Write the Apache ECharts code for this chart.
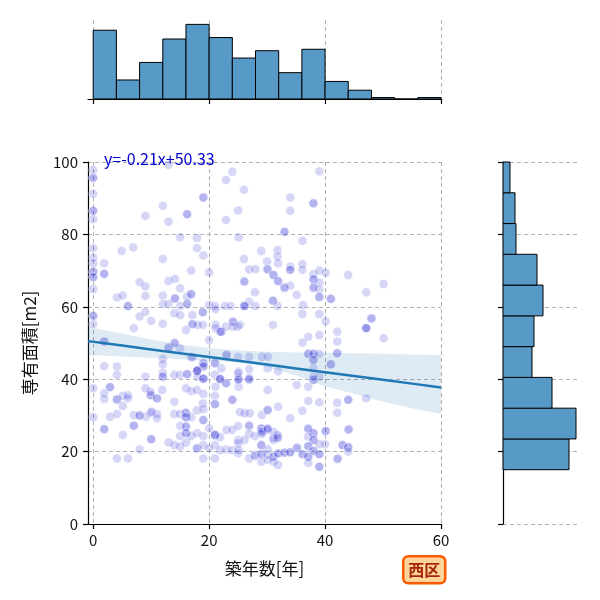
<!DOCTYPE html>
<html>
<head>
<meta charset="utf-8">
<script src="https://cdn.jsdelivr.net/npm/echarts@6/dist/echarts.min.js"></script>
<style>
html, body { margin: 0; padding: 0; background: #fff; }
#container { width: 600px; height: 600px; }
</style>
</head>
<body>
<div id="container"></div>
<script>
// 築年数 x 専有面積（西区）
var samples = [
	[0, 97.8], [0, 95.6], [0, 95.6], [0, 91.2], [0, 86.5], [0, 86.5], [0, 84.2], [0, 76.2], [0, 73.6], [0, 72.0],
	[0, 69.7], [0, 69.7], [0, 68.2], [0, 68.2], [0, 64.9], [0, 57.5], [0, 57.5], [0, 55.2], [0, 37.5], [0, 29.5],
	[13.0, 99.2], [24.0, 97.3], [22.9, 95.0], [26.0, 92.3], [19.0, 90.2], [19.0, 90.2], [12.0, 87.9], [25.0, 86.6],
	[16.2, 85.6], [16.2, 85.6], [9.0, 85.1], [13.0, 83.5], [22.9, 84.0], [15.0, 79.2], [17.9, 79.0], [25.1, 79.2],
	[17.9, 76.2], [6.9, 76.4], [4.9, 75.4], [19.0, 74.2], [12.0, 73.2], [26.0, 73.2], [29.0, 75.4], [30.0, 72.5],
	[31.8, 75.7], [31.8, 73.9], [1.9, 72.0], [1.9, 69.1], [1.9, 69.1], [16.9, 70.0], [20.0, 69.5], [26.9, 70.3],
	[28.0, 70.4], [30.0, 70.4], [8.0, 66.8], [9.0, 65.6], [13.0, 67.1], [14.1, 67.7], [15.0, 65.1], [26.0, 67.1],
	[27.9, 64.0], [4.1, 62.6], [5.1, 63.1], [9.0, 63.0], [6.0, 60.2], [6.0, 60.2], [12.0, 63.1], [14.1, 62.3],
	[14.1, 62.3], [12.0, 60.8], [13.0, 60.8], [15.0, 60.2], [16.2, 60.8], [16.2, 60.8], [16.2, 62.8], [16.9, 63.5],
	[16.9, 63.5], [20.0, 60.5], [21.0, 60.2], [22.7, 60.2], [23.7, 60.2], [26.0, 60.2], [26.9, 61.4], [28.0, 60.2],
	[31.0, 61.7], [31.0, 61.7], [31.8, 60.2], [8.0, 57.3], [9.0, 58.6], [10.0, 56.1], [12.0, 55.3], [14.0, 58.2],
	[15.0, 57.7], [17.1, 57.7], [17.1, 55.2], [17.1, 55.2], [18.0, 55.0], [18.9, 55.0], [18.9, 58.5], [18.9, 58.5],
	[21.1, 59.3], [21.1, 55.0], [21.1, 54.1], [22.1, 53.1], [22.1, 53.1], [22.9, 54.5], [24.1, 55.9], [24.1, 55.9],
	[24.1, 54.5], [24.9, 54.5], [31.0, 55.0], [7.0, 54.1], [16.0, 53.6], [1.9, 50.4], [1.9, 50.4], [20.0, 50.8],
	[14.0, 50.1], [13.0, 48.5], [15.0, 48.5],
	[39.0, 97.4], [34.0, 90.2], [38.0, 88.6], [38.0, 88.6], [34.0, 86.5], [33.0, 80.7], [33.0, 80.7], [36.1, 78.2],
	[31.9, 72.0], [34.0, 71.1], [34.0, 70.2], [34.0, 70.2], [36.1, 71.8], [36.1, 70.2], [30.1, 70.3], [31.1, 68.8],
	[31.1, 68.8], [31.9, 67.1], [31.9, 67.1], [33.0, 65.1], [34.0, 65.8], [38.0, 69.0], [39.0, 70.0], [40.1, 69.4],
	[38.0, 67.6], [38.0, 67.6], [39.0, 66.7], [38.0, 65.1], [39.0, 64.8], [39.0, 62.7], [39.0, 62.7], [41.0, 62.2],
	[41.0, 62.2], [44.0, 68.8], [50.1, 66.3], [47.1, 64.0], [35.1, 63.3], [26.1, 60.2], [26.1, 60.2], [36.2, 60.5],
	[36.1, 58.0], [39.0, 58.0], [40.1, 56.0], [48.0, 56.8], [48.0, 56.8], [47.1, 54.1], [47.1, 54.1], [47.1, 54.1],
	[50.1, 51.3], [25.3, 55.0], [37.1, 51.7], [39.0, 52.2], [42.1, 53.1], [42.1, 50.4], [36.1, 50.1], [26.1, 66.9],
	[33.0, 65.4], [38.0, 65.4],
	[37.1, 47.0], [37.1, 47.0], [38.0, 47.0], [38.0, 47.0], [39.0, 47.0], [42.1, 47.2], [42.1, 47.2], [38.0, 45.3],
	[38.0, 45.3], [41.0, 44.1], [41.0, 44.1], [29.1, 46.2], [30.1, 46.2], [26.9, 42.8], [30.1, 43.0], [31.9, 42.2],
	[39.0, 40.7], [38.0, 39.8], [38.0, 39.8], [35.1, 38.4], [37.1, 37.9], [26.9, 39.8], [30.1, 37.0], [25.1, 37.9],
	[25.1, 40.1], [25.1, 40.1], [25.1, 42.1], [26.9, 40.4], [38.0, 43.0], [38.0, 40.7],
	[21.9, 53.1], [13.0, 48.8], [14.1, 49.9], [12.0, 45.6], [16.9, 46.2], [17.1, 46.0], [19.0, 44.4], [19.0, 44.4],
	[19.0, 43.5], [19.0, 43.5], [21.0, 44.4], [21.0, 44.4], [23.0, 46.7], [23.0, 46.7], [25.0, 46.2], [26.9, 46.2],
	[18.0, 42.5], [18.0, 42.5], [22.1, 43.0], [1.9, 43.6], [4.1, 43.5], [4.1, 41.2], [12.0, 44.1], [12.0, 41.8],
	[12.0, 40.7], [12.0, 40.7], [15.0, 41.2], [16.2, 41.4], [16.2, 41.4], [17.9, 42.3], [17.9, 42.3], [19.0, 40.2],
	[19.0, 40.2], [21.0, 41.2], [21.9, 40.0], [21.9, 40.0], [23.0, 38.9], [25.0, 41.6], [25.0, 39.8], [26.9, 40.0],
	[9.0, 40.7], [14.0, 41.2], [18.0, 40.7], [2.9, 37.8], [2.9, 37.8], [1.9, 36.1], [1.9, 34.5], [4.1, 34.4],
	[4.1, 34.4], [5.1, 35.4], [6.0, 35.6], [6.0, 34.7], [5.1, 32.6], [9.9, 35.6], [9.9, 35.6], [11.0, 34.7],
	[11.0, 34.7], [9.9, 36.5], [14.0, 33.8], [16.0, 37.5], [16.9, 36.7], [17.9, 37.0], [19.0, 35.9], [21.0, 35.4],
	[21.0, 33.1], [21.0, 33.1], [24.0, 34.3], [24.0, 34.3], [9.0, 37.5], [11.9, 37.0], [18.9, 33.3], [21.1, 37.9],
	[22.9, 38.9], [19.0, 40.1], [21.9, 40.1],
	[2.9, 29.6], [4.1, 30.4], [7.0, 30.1], [8.0, 30.1], [9.1, 29.6], [9.9, 30.7], [11.0, 30.4], [11.0, 29.2],
	[14.0, 30.4], [15.0, 30.4], [16.0, 30.7], [16.0, 30.7], [16.0, 29.5], [16.0, 29.5], [16.9, 29.5], [17.9, 31.4],
	[19.0, 31.7], [19.0, 28.7], [19.0, 28.7], [20.0, 26.4], [21.0, 24.6], [21.0, 24.6], [21.0, 24.6], [21.9, 24.0],
	[23.0, 26.0], [24.0, 26.0], [25.0, 23.2], [25.0, 27.1], [26.9, 26.9], [1.9, 26.2], [1.9, 26.2], [5.1, 24.6],
	[7.0, 27.1], [10.0, 23.4], [10.0, 23.4], [15.0, 27.1], [15.0, 24.3], [16.0, 26.9], [16.0, 26.9], [16.0, 25.1],
	[16.0, 25.1], [16.9, 24.3], [17.9, 25.1], [19.0, 24.3], [13.0, 22.5], [14.0, 21.8], [15.0, 21.4], [16.0, 22.5],
	[17.9, 20.9], [17.9, 20.9], [19.0, 21.8], [20.0, 20.9], [21.0, 21.8], [21.9, 20.4], [23.0, 20.6], [24.0, 20.4],
	[25.0, 19.5], [25.0, 22.3], [27.9, 19.1], [29.0, 21.8], [29.0, 26.4], [29.0, 26.4], [30.0, 26.0], [31.1, 23.2],
	[19.0, 18.1], [21.0, 18.1], [4.1, 18.1], [6.0, 18.1], [8.0, 20.6],
	[25.3, 30.9], [26.1, 30.6], [27.0, 30.6], [29.1, 30.1], [30.1, 31.5], [30.1, 31.5], [31.9, 32.4], [34.0, 29.2],
	[36.1, 31.3], [37.1, 34.0], [39.0, 33.6], [42.1, 33.5], [44.0, 34.3], [44.0, 34.3], [47.1, 34.7], [42.1, 30.7],
	[29.1, 25.5], [29.1, 25.5], [29.1, 24.9], [26.9, 24.9], [27.9, 24.3], [30.1, 26.2], [31.1, 25.5], [31.9, 24.0],
	[31.1, 23.7], [37.1, 26.2], [38.0, 25.1], [38.0, 25.1], [37.1, 24.1], [38.0, 23.2], [38.0, 23.2], [37.1, 21.5],
	[37.1, 21.5], [39.0, 22.1], [40.1, 25.7], [40.1, 25.7], [44.0, 26.0], [43.0, 21.8], [43.0, 21.8], [44.0, 21.2],
	[44.0, 21.2], [44.0, 20.0], [42.1, 17.9], [39.0, 15.8], [39.0, 15.8], [26.9, 18.1], [27.9, 18.8], [29.0, 19.3],
	[29.0, 19.3], [30.1, 19.1], [31.1, 18.6], [31.1, 18.6], [31.9, 19.5], [31.9, 19.5], [33.0, 19.7], [33.0, 19.7],
	[34.0, 19.8], [34.0, 19.8], [35.1, 20.9], [36.1, 19.3], [36.1, 19.3], [37.1, 18.6], [37.1, 18.6], [38.0, 20.2],
	[38.0, 20.2], [39.0, 19.3], [39.0, 19.3], [29.0, 17.2], [30.1, 17.7], [31.1, 17.2], [31.9, 16.3], [37.1, 16.9],
	[26.9, 27.3], [30.1, 26.4], [31.8, 24.6], [31.8, 23.7], [25.1, 20.4], [26.1, 23.2], [29.0, 21.8], [30.1, 20.7],
	[37.1, 26.4], [40.0, 22.0], [44.1, 26.2], [35.2, 21.1], [42.2, 18.1], [10.1, 31.0], [8.0, 29.9], [7.0, 27.2]
];

// 上：築年数ヒストグラム（4年刻み）
var yearBins = [0, 4, 8, 12, 16, 20, 24, 28, 32, 36, 40, 44, 48, 52, 56, 60];
var yearCounts = [47, 13, 25, 41, 51, 42, 28, 33, 18, 34, 12, 6, 1, 0, 1];
// 右：専有面積ヒストグラム
var areaBins = [15, 23.5, 32, 40.5, 49, 57.5, 66, 74.5, 83, 91.5, 100];
var areaCounts = [66, 73, 49, 29, 31, 40, 34, 13, 12, 7];

// 回帰直線と信頼区間
var slope = -0.21;
var intercept = 50.33;
var bandX = [-0.9, 5, 10, 15, 20, 25, 30, 35, 40, 45, 50, 55, 60];
var bandUpper = [54.4, 52.6, 51.0, 49.6, 48.6, 47.9, 47.6, 47.4, 47.3, 47.2, 47.0, 46.8, 46.7];
var bandLower = [46.7, 46.3, 45.9, 45.5, 45.1, 44.6, 43.4, 41.0, 38.0, 36.0, 33.8, 32.0, 30.4];

var xTicks = [0, 20, 40, 60];
var font = 'Noto Sans CJK JP';

var dom = document.getElementById('container');
var myChart = echarts.init(dom, null, { renderer: 'canvas' });

var yearData = [];
for (var i = 0; i < yearCounts.length; i++) {
	yearData.push([yearBins[i], yearBins[i + 1], yearCounts[i]]);
}
var areaData = [];
for (var j = 0; j < areaCounts.length; j++) {
	areaData.push([areaCounts[j], areaBins[j], areaBins[j + 1]]);
}
var lineData = bandX.map(function(x) {
	return [x, slope * x + intercept];
});

var gridLine = {
	show: true,
	lineStyle: { color: '#b0b0b0', type: [4, 3], width: 1 }
};
var blackLine = { show: true, onZero: false, lineStyle: { color: '#000', width: 1.2 } };
var blackTick = { show: true, length: 5, lineStyle: { color: '#000', width: 1.2 } };

var option = {
	animation: false,
	backgroundColor: '#fff',
	textStyle: { fontFamily: font },
	grid: [
		{ left: 88, top: 162, width: 353, height: 362 },
		{ left: 88, top: 20, width: 353, height: 79 },
		{ left: 503, top: 162, width: 75, height: 362 }
	],
	xAxis: [{
		gridIndex: 0,
		type: 'value',
		min: -0.9,
		max: 60,
		axisLine: blackLine,
		axisTick: { show: true, length: 5, lineStyle: { color: '#000', width: 1.2 }, customValues: xTicks },
		axisLabel: { customValues: xTicks, fontSize: 15, color: '#111', margin: 9, fontFamily: font },
		splitLine: gridLine,
		name: '築年数[年]',
		nameLocation: 'middle',
		nameGap: 36,
		nameTextStyle: { fontSize: 17, color: '#111', fontFamily: font }
	}, {
		gridIndex: 1,
		type: 'value',
		min: -0.9,
		max: 60,
		axisLine: blackLine,
		axisTick: { show: true, length: 5, lineStyle: { color: '#000', width: 1.2 }, customValues: xTicks },
		axisLabel: { show: false, customValues: xTicks },
		splitLine: gridLine
	}, {
		gridIndex: 2,
		type: 'value',
		min: 0,
		max: 75,
		show: false
	}],
	yAxis: [{
		gridIndex: 0,
		type: 'value',
		min: 0,
		max: 100,
		interval: 20,
		axisLine: blackLine,
		axisTick: blackTick,
		axisLabel: { fontSize: 15, color: '#111', margin: 10, fontFamily: font },
		splitLine: gridLine,
		name: '専有面積[m2]',
		nameLocation: 'middle',
		nameGap: 50,
		nameRotate: 90,
		nameTextStyle: { fontSize: 17, color: '#111', fontFamily: font }
	}, {
		gridIndex: 1,
		type: 'value',
		min: 0,
		max: 54,
		show: false
	}, {
		gridIndex: 2,
		type: 'value',
		min: 0,
		max: 100,
		interval: 20,
		axisLine: blackLine,
		axisTick: blackTick,
		axisLabel: { show: false },
		splitLine: gridLine
	}],
	series: [{
		// 散布図
		type: 'scatter',
		xAxisIndex: 0,
		yAxisIndex: 0,
		data: samples,
		symbolSize: 9,
		clip: false,
		itemStyle: {
			color: 'rgba(0,0,205,0.2)',
			borderColor: 'rgba(255,255,255,0.55)',
			borderWidth: 0.8
		},
		z: 2
	}, {
		// 信頼区間
		type: 'custom',
		xAxisIndex: 0,
		yAxisIndex: 0,
		data: [[0, 0]],
		silent: true,
		renderItem: function(params, api) {
			var pts = [];
			for (var k = 0; k < bandX.length; k++) {
				pts.push(api.coord([bandX[k], bandUpper[k]]));
			}
			for (var m = bandX.length - 1; m >= 0; m--) {
				pts.push(api.coord([bandX[m], bandLower[m]]));
			}
			return {
				type: 'polygon',
				shape: { points: pts },
				style: { fill: 'rgba(31,119,180,0.15)' }
			};
		},
		z: 3
	}, {
		// 回帰直線
		type: 'line',
		xAxisIndex: 0,
		yAxisIndex: 0,
		data: lineData,
		showSymbol: false,
		lineStyle: { color: '#1f77b4', width: 2.5 },
		z: 4
	}, {
		// 上ヒストグラム
		type: 'custom',
		xAxisIndex: 1,
		yAxisIndex: 1,
		data: yearData,
		encode: { x: [0, 1], y: 2 },
		renderItem: function(params, api) {
			var p0 = api.coord([api.value(0), api.value(2)]);
			var p1 = api.coord([api.value(1), 0]);
			return {
				type: 'rect',
				shape: { x: p0[0], y: p0[1], width: p1[0] - p0[0], height: p1[1] - p0[1] },
				style: { fill: '#5799c7', stroke: '#000', lineWidth: 1 }
			};
		},
		z: 3
	}, {
		// 右ヒストグラム
		type: 'custom',
		xAxisIndex: 2,
		yAxisIndex: 2,
		data: areaData,
		encode: { x: 0, y: [1, 2] },
		renderItem: function(params, api) {
			var p0 = api.coord([0, api.value(2)]);
			var p1 = api.coord([api.value(0), api.value(1)]);
			return {
				type: 'rect',
				shape: { x: p0[0], y: p0[1], width: p1[0] - p0[0], height: p1[1] - p0[1] },
				style: { fill: '#5799c7', stroke: '#000', lineWidth: 1 }
			};
		},
		z: 3
	}],
	graphic: [{
		type: 'text',
		left: 104,
		top: 151,
		z: 10,
		style: {
			text: 'y=-0.21x+50.33',
			fill: '#0000cd',
			font: '16px "Noto Sans CJK JP"'
		}
	}, {
		type: 'group',
		left: 402,
		top: 555,
		z: 10,
		children: [{
			type: 'rect',
			shape: { x: 0, y: 0, width: 42, height: 27, r: 5 },
			style: { fill: '#ffd49b', stroke: '#ff5a00', lineWidth: 2.5 }
		}, {
			type: 'text',
			x: 21,
			y: 13.5,
			style: {
				text: '西区',
				fill: '#a3250a',
				font: 'bold 16px "Noto Sans CJK JP"',
				align: 'center',
				verticalAlign: 'middle'
			}
		}]
	}]
};

myChart.setOption(option);
</script>
</body>
</html>
